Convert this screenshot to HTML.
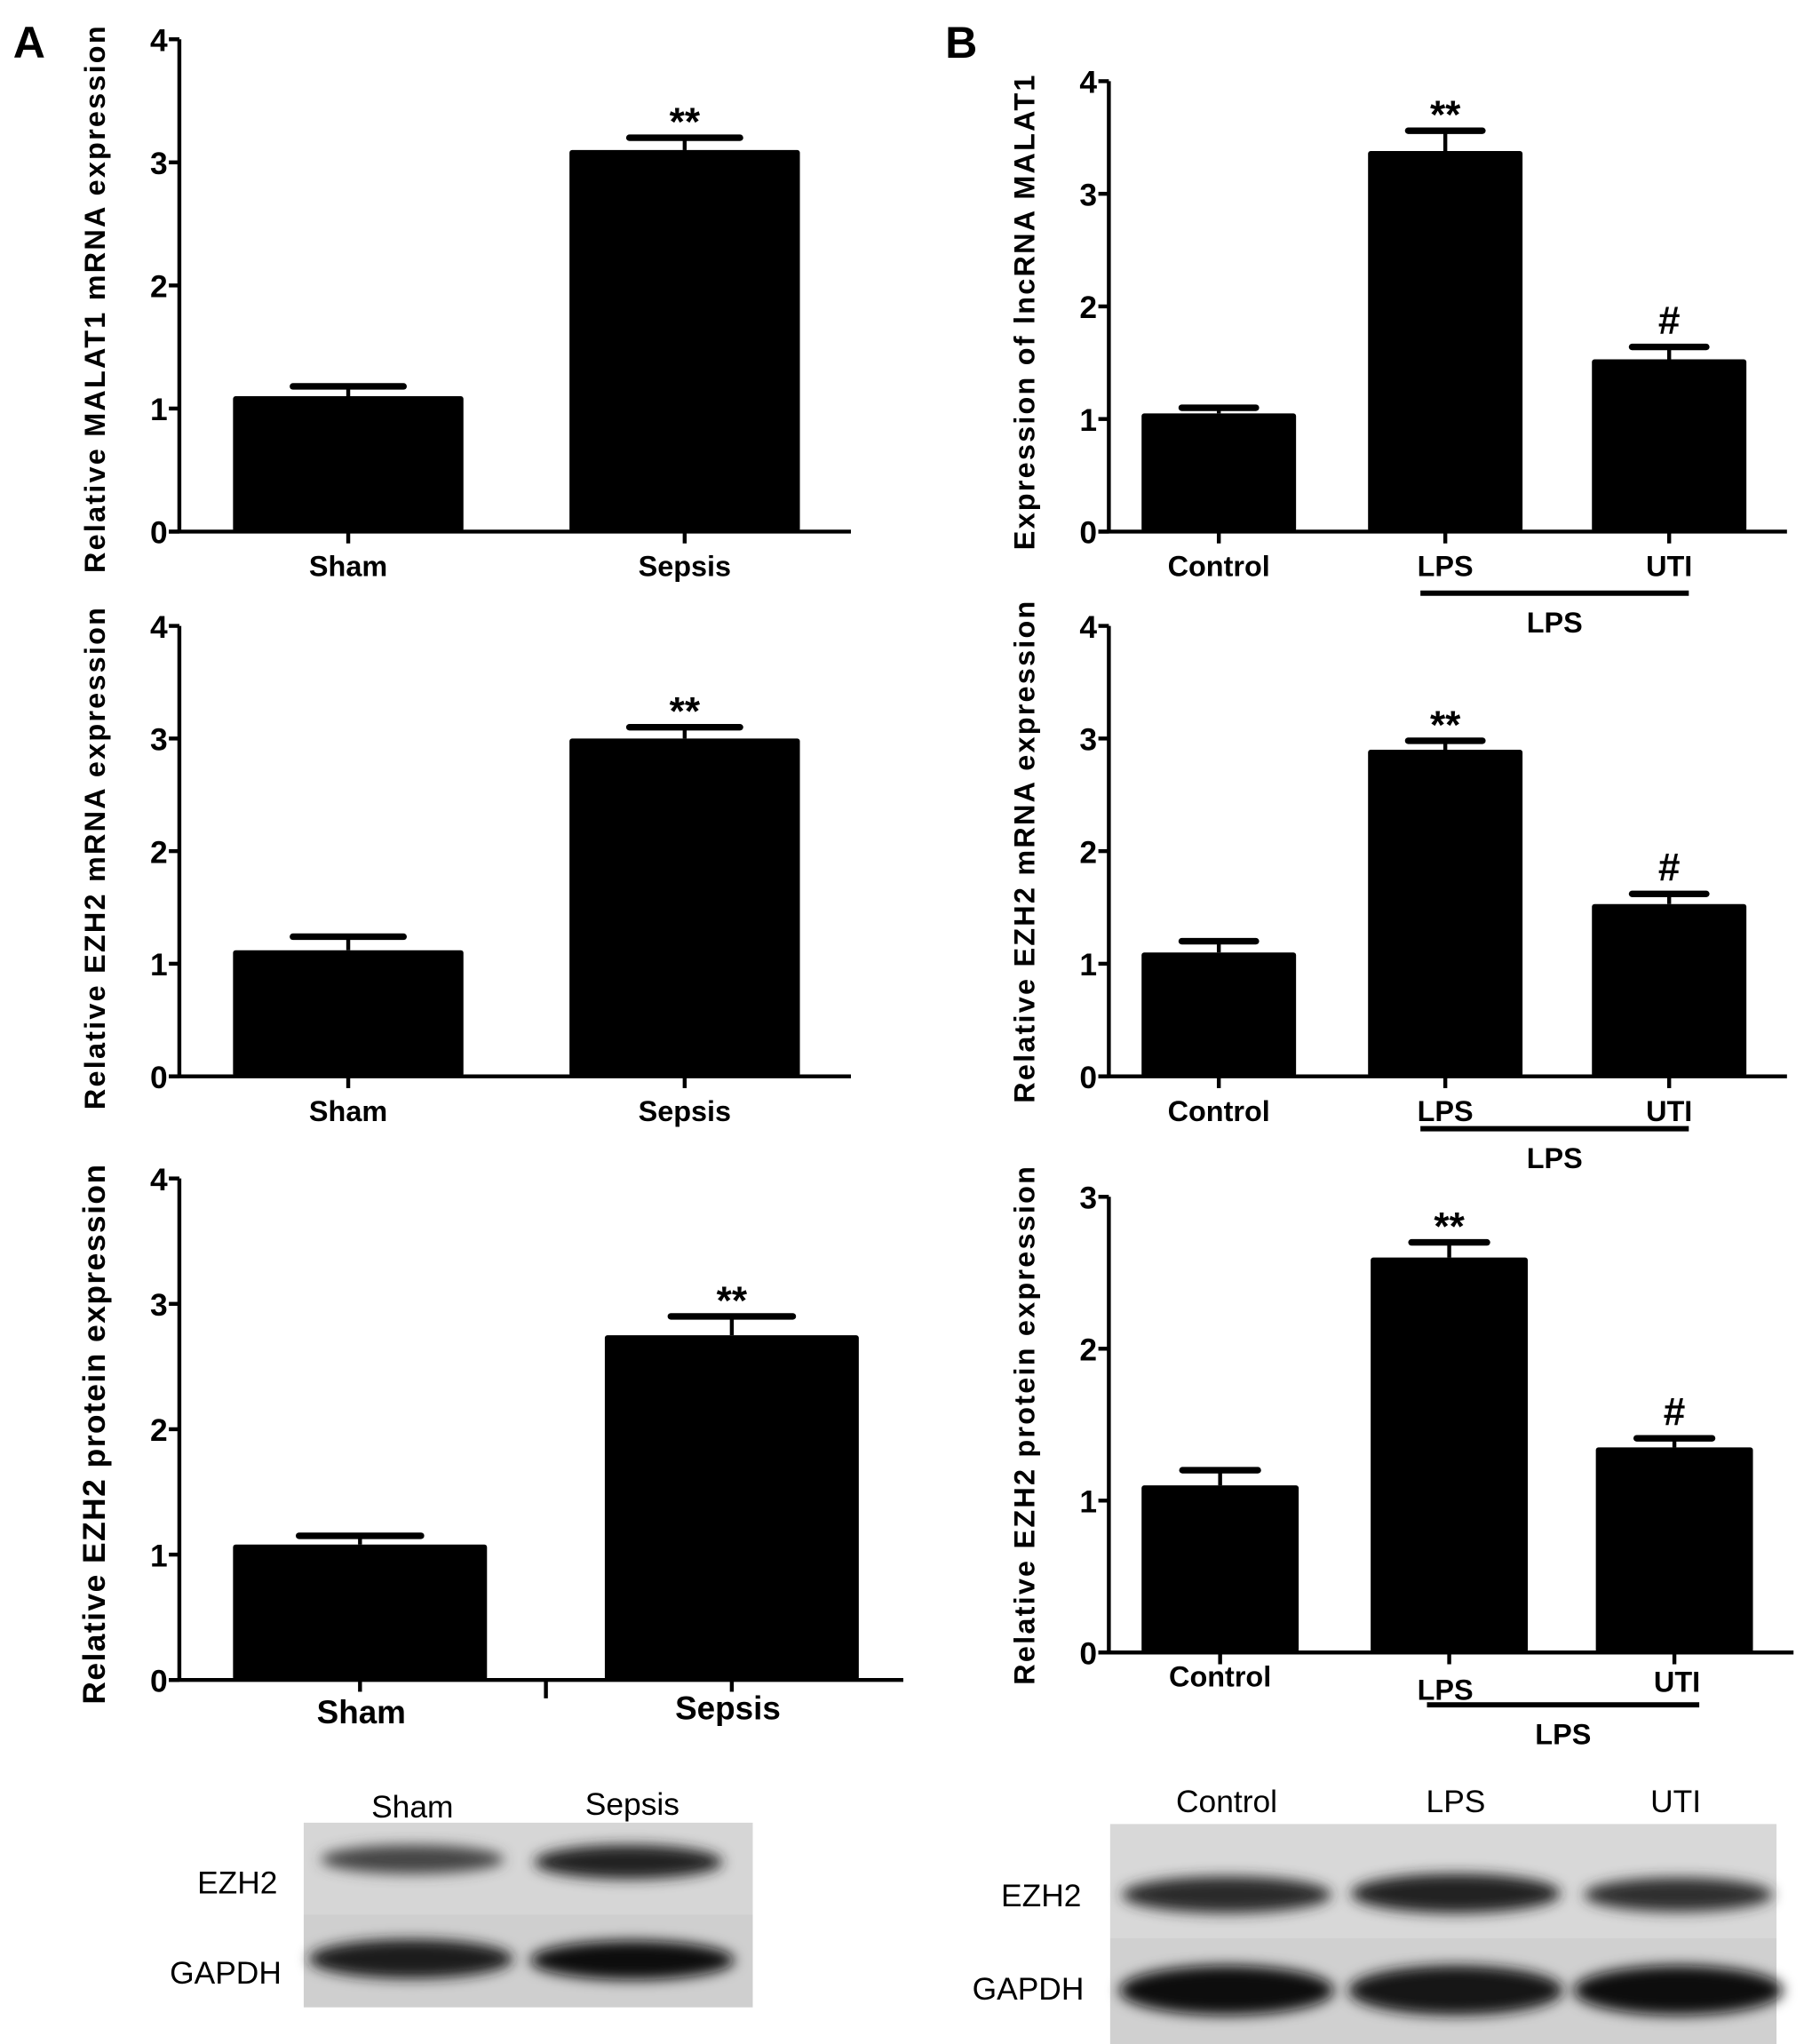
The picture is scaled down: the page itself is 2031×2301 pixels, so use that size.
<!DOCTYPE html>
<html><head><meta charset="utf-8"><style>
html,body{margin:0;padding:0;background:#fff;}
svg{display:block;}
text{font-family:"Liberation Sans",Arial,sans-serif;font-weight:bold;fill:#000;}
</style></head><body>
<svg id="fig" width="2031" height="2301" viewBox="0 0 1378 1561" preserveAspectRatio="none" xmlns="http://www.w3.org/2000/svg">
<defs><filter id="blur" x="-20%" y="-50%" width="140%" height="200%"><feGaussianBlur stdDeviation="5"/></filter></defs>
<text x="10" y="44" font-size="34">A</text>
<text x="722" y="44" font-size="34">B</text>
<g id="charts"></g>
<g>
<rect x="232" y="1392" width="343" height="70" fill="#d6d6d6"/>
<rect x="232" y="1462" width="343" height="71" fill="#cfcfcf"/>
<ellipse cx="315" cy="1420" rx="70" ry="11" fill="#444" filter="url(#blur)"/>
<ellipse cx="480" cy="1422" rx="72" ry="13" fill="#222" filter="url(#blur)"/>
<ellipse cx="314" cy="1496" rx="78" ry="15" fill="#1a1a1a" filter="url(#blur)"/>
<ellipse cx="483" cy="1497" rx="78" ry="15" fill="#111" filter="url(#blur)"/>
<text x="315" y="1388" font-size="24" text-anchor="middle" style="font-weight:normal">Sham</text>
<text x="483" y="1386" font-size="24" text-anchor="middle" style="font-weight:normal">Sepsis</text>
<text x="212" y="1446" font-size="24" text-anchor="end" style="font-weight:normal">EZH2</text>
<text x="215" y="1515" font-size="24" text-anchor="end" style="font-weight:normal">GAPDH</text>
</g>
<g>
<rect x="848" y="1393" width="509" height="87" fill="#d8d8d8"/>
<rect x="848" y="1480" width="509" height="105" fill="#d0d0d0"/>
<ellipse cx="937" cy="1447" rx="80" ry="14" fill="#2a2a2a" filter="url(#blur)"/>
<ellipse cx="1112" cy="1446" rx="80" ry="15" fill="#222" filter="url(#blur)"/>
<ellipse cx="1282" cy="1447" rx="72" ry="13" fill="#2e2e2e" filter="url(#blur)"/>
<ellipse cx="937" cy="1520" rx="82" ry="19" fill="#111" filter="url(#blur)"/>
<ellipse cx="1112" cy="1520" rx="82" ry="19" fill="#151515" filter="url(#blur)"/>
<ellipse cx="1282" cy="1520" rx="80" ry="19" fill="#111" filter="url(#blur)"/>
<text x="937" y="1384" font-size="24" text-anchor="middle" style="font-weight:normal">Control</text>
<text x="1112" y="1384" font-size="24" text-anchor="middle" style="font-weight:normal">LPS</text>
<text x="1280" y="1384" font-size="24" text-anchor="middle" style="font-weight:normal">UTI</text>
<text x="826" y="1456" font-size="24" text-anchor="end" style="font-weight:normal">EZH2</text>
<text x="828" y="1527" font-size="24" text-anchor="end" style="font-weight:normal">GAPDH</text>
</g>
</svg>
<script>
const a1Cats = ["Sham","Sepsis"];
const a1Vals = [1.1, 3.1];
const a1Errs = [0.08, 0.1];
const a1Sig = ["", "**"];
const a2Cats = ["Sham","Sepsis"];
const a2Vals = [1.12, 3.0];
const a2Errs = [0.12, 0.1];
const a2Sig = ["", "**"];
const a3Cats = ["Sham","Sepsis"];
const a3Vals = [1.08, 2.75];
const a3Errs = [0.07, 0.15];
const a3Sig = ["", "**"];
const b1Cats = ["Control","LPS","UTI"];
const b1Vals = [1.05, 3.38, 1.53];
const b1Errs = [0.05, 0.18, 0.11];
const b1Sig = ["", "**", "#"];
const b2Cats = ["Control","LPS","UTI"];
const b2Vals = [1.1, 2.9, 1.53];
const b2Errs = [0.1, 0.08, 0.09];
const b2Sig = ["", "**", "#"];
const b3Cats = ["Control","LPS","UTI"];
const b3Vals = [1.1, 2.6, 1.35];
const b3Errs = [0.1, 0.1, 0.06];
const b3Sig = ["", "**", "#"];
const ticks4 = [0,1,2,3,4];
const ticks3 = [0,1,2,3];

const NS = "http://www.w3.org/2000/svg";
const root = document.getElementById("charts");
function el(tag, attrs, parent){
  const e = document.createElementNS(NS, tag);
  for (const k in attrs) e.setAttribute(k, attrs[k]);
  (parent||root).appendChild(e);
  return e;
}
function chart(o){
  const g = el("g", {});
  
  
  const ymax = o.ticks[o.ticks.length-1];
  const y = v => o.y0 - (v/ymax)*(o.y0 - o.yTop);
  const ya = el("line",{x1:o.ax,y1:o.yTop,x2:o.ax,y2:o.y0,stroke:"#000","stroke-width":3},g);
  
  
  const xa = el("line",{x1:o.ax-8,y1:o.y0,x2:o.xEnd,y2:o.y0,stroke:"#000","stroke-width":3},g);
  
  
  o.ticks.forEach(t=>{
    el("line",{x1:o.ax-8,y1:y(t),x2:o.ax,y2:y(t),stroke:"#000","stroke-width":3},g);
    const tl = el("text",{x:o.ax-9,y:y(t)+9,"font-size":24,"text-anchor":"end"},g);
    tl.textContent = t;
    
    
  });
  const t = el("text",{x:0,y:0,"font-size":o.tfs,"text-anchor":"middle","letter-spacing":o.ls,transform:`translate(${o.tx},${o.ty}) rotate(-90)`},g);
  t.textContent = o.title;
  
  
  o.cats.forEach((c,i)=>{
    const x0 = o.bx[i], w = o.bw, cx = x0 + w/2;
    const b = el("rect",{x:x0,y:y(o.vals[i]),width:w,height:o.y0-y(o.vals[i]),fill:"#000",rx:2},g);
    
    
    const ye = y(o.vals[i]+o.errs[i]);
    el("line",{x1:cx,y1:y(o.vals[i]),x2:cx,y2:ye,stroke:"#000","stroke-width":3},g);
    const eb = el("line",{x1:cx-w*0.24,y1:ye,x2:cx+w*0.24,y2:ye,stroke:"#000","stroke-width":5,"stroke-linecap":"round"},g);
    
    
    el("line",{x1:cx,y1:o.y0,x2:cx,y2:o.y0+9,stroke:"#000","stroke-width":3},g);
    if (o.sig[i]) {
      const s = el("text",{x:cx,y:ye-(o.sig[i]==="#"?10:2),"font-size":30,"text-anchor":"middle"},g);
      s.textContent = o.sig[i];
      
      
    }
    const lx = o.lx ? o.lx[i] : cx;
    const ly = o.ly ? o.ly[i] : o.y0+34;
    const l = el("text",{x:lx,y:ly,"font-size":o.lfs,"text-anchor":"middle"},g);
    l.textContent = c;
    
    
  });
  if (o.midTick) el("line",{x1:o.midTick,y1:o.y0,x2:o.midTick,y2:o.y0+14,stroke:"#000","stroke-width":3},g);
  if (o.group) {
    const gl = el("line",{x1:o.group[0],y1:o.group[2],x2:o.group[1],y2:o.group[2],stroke:"#000","stroke-width":4},g);
    
    
    const gt = el("text",{x:(o.group[0]+o.group[1])/2,y:o.group[2]+30,"font-size":22,"text-anchor":"middle"},g);
    gt.textContent = "LPS";
    
    
  }
}
chart({name:"chart-a-malat1",cats:a1Cats,vals:a1Vals,errs:a1Errs,sig:a1Sig,ticks:ticks4,ax:137,yTop:30,y0:406,xEnd:650,bx:[178,435],bw:176,tx:80,ty:228,tfs:22,ls:1.5,title:"Relative MALAT1 mRNA expression",lfs:22});
chart({name:"chart-a-ezh2-mrna",cats:a2Cats,vals:a2Vals,errs:a2Errs,sig:a2Sig,ticks:ticks4,ax:137,yTop:478,y0:822,xEnd:650,bx:[178,435],bw:176,tx:80,ty:655,tfs:22,ls:1.5,title:"Relative EZH2 mRNA expression",lfs:22});
chart({name:"chart-a-ezh2-protein",cats:a3Cats,vals:a3Vals,errs:a3Errs,sig:a3Sig,ticks:ticks4,ax:137,yTop:900,y0:1283,xEnd:690,bx:[178,462],bw:194,tx:80,ty:1095,tfs:24,ls:1,title:"Relative EZH2 protein expression",lfs:25,lx:[276,556],ly:[1316,1313],midTick:417});
chart({name:"chart-b-malat1",cats:b1Cats,vals:b1Vals,errs:b1Errs,sig:b1Sig,ticks:ticks4,ax:847,yTop:62,y0:406,xEnd:1365,bx:[872,1045,1216],bw:118,tx:790,ty:238,tfs:22,ls:1.5,title:"Expression of lncRNA MALAT1",lfs:22,group:[1085,1290,453]});
chart({name:"chart-b-ezh2-mrna",cats:b2Cats,vals:b2Vals,errs:b2Errs,sig:b2Sig,ticks:ticks4,ax:847,yTop:478,y0:822,xEnd:1365,bx:[872,1045,1216],bw:118,tx:790,ty:650,tfs:22,ls:1.5,title:"Relative EZH2 mRNA expression",lfs:22,group:[1085,1290,862]});
chart({name:"chart-b-ezh2-protein",cats:b3Cats,vals:b3Vals,errs:b3Errs,sig:b3Sig,ticks:ticks3,ax:847,yTop:914,y0:1262,xEnd:1370,bx:[872,1047,1219],bw:120,tx:790,ty:1088,tfs:22,ls:1.5,title:"Relative EZH2 protein expression",lfs:22,lx:[932,1104,1281],ly:[1288,1298,1292],group:[1090,1298,1302]});
</script>
</body></html>
